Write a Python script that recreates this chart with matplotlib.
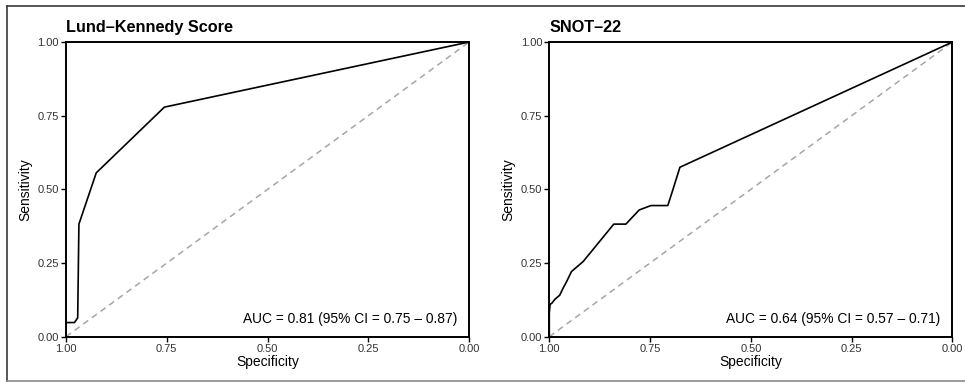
import matplotlib
matplotlib.use("Agg")
import matplotlib.pyplot as plt
from matplotlib.lines import Line2D

plt.rcParams["font.family"] = ["Liberation Sans", "DejaVu Sans"]

# Lund-Kennedy Score ROC
lk_spec = [1.0, 1.0, 0.979, 0.971, 0.968, 0.925, 0.756, 0.0]
lk_sens = [0.0, 0.048, 0.048, 0.064, 0.382, 0.556, 0.779, 1.0]
lk_label = "AUC = 0.81 (95% CI = 0.75 \u2013 0.87)"

# SNOT-22 ROC
sn_spec = [1.0, 1.0, 0.998, 0.994, 0.986, 0.974, 0.966, 0.957, 0.945,
           0.916, 0.840, 0.810, 0.777, 0.748, 0.706, 0.695, 0.676, 0.0]
sn_sens = [0.0, 0.08, 0.11, 0.113, 0.127, 0.141, 0.164, 0.187, 0.221,
           0.255, 0.382, 0.382, 0.43, 0.445, 0.445, 0.492, 0.575, 1.0]
sn_label = "AUC = 0.64 (95% CI = 0.57 \u2013 0.71)"

ticks = [1.0, 0.75, 0.5, 0.25, 0.0]
tick_labels = ["1.00", "0.75", "0.50", "0.25", "0.00"]

fig = plt.figure(figsize=(9.65, 3.84), dpi=100)

panels = [
    ("Lund\u2013Kennedy Score", lk_spec, lk_sens, lk_label, 0.0684),
    ("SNOT\u201322", sn_spec, sn_sens, sn_label, 0.5692),
]

for title, spec, sens, label, left in panels:
    ax = fig.add_axes([left, 0.1232, 0.4178, 0.7674])
    ax.plot([1, 0], [0, 1], color="#a6a6a6", lw=1.1, dashes=(4, 3))
    ax.plot(spec, sens, color="black", lw=1.2)
    ax.set_xlim(1, 0)
    ax.set_ylim(0, 1)
    ax.set_xticks(ticks)
    ax.set_xticklabels(tick_labels)
    ax.set_yticks(ticks)
    ax.set_yticklabels(tick_labels)
    ax.tick_params(length=3.5, width=1.0, labelsize=8, colors="black",
                   labelcolor="#333333", pad=1.5)
    for s in ax.spines.values():
        s.set_linewidth(1.4)
        s.set_color("black")
    ax.set_xlabel("Specificity", fontsize=10, labelpad=1)
    ax.set_ylabel("Sensitivity", fontsize=10, labelpad=4)
    ax.set_title(title, loc="left", fontsize=11.7, fontweight="bold", pad=7)
    ax.text(0.03, 0.035, label, transform=ax.transData, ha="right",
            va="bottom", fontsize=9.9)

# outer frame
fig.add_artist(Line2D([7 / 965, 7 / 965], [3 / 384, 378 / 384],
                      transform=fig.transFigure, color="#3a3a3a", lw=1.2))
fig.add_artist(Line2D([7 / 965, 1.0], [378 / 384, 378 / 384],
                      transform=fig.transFigure, color="#3a3a3a", lw=1.2))
fig.add_artist(Line2D([7 / 965, 1.0], [3 / 384, 3 / 384],
                      transform=fig.transFigure, color="#8a8a8a", lw=1.2))

fig.savefig("out.png", dpi=100)
